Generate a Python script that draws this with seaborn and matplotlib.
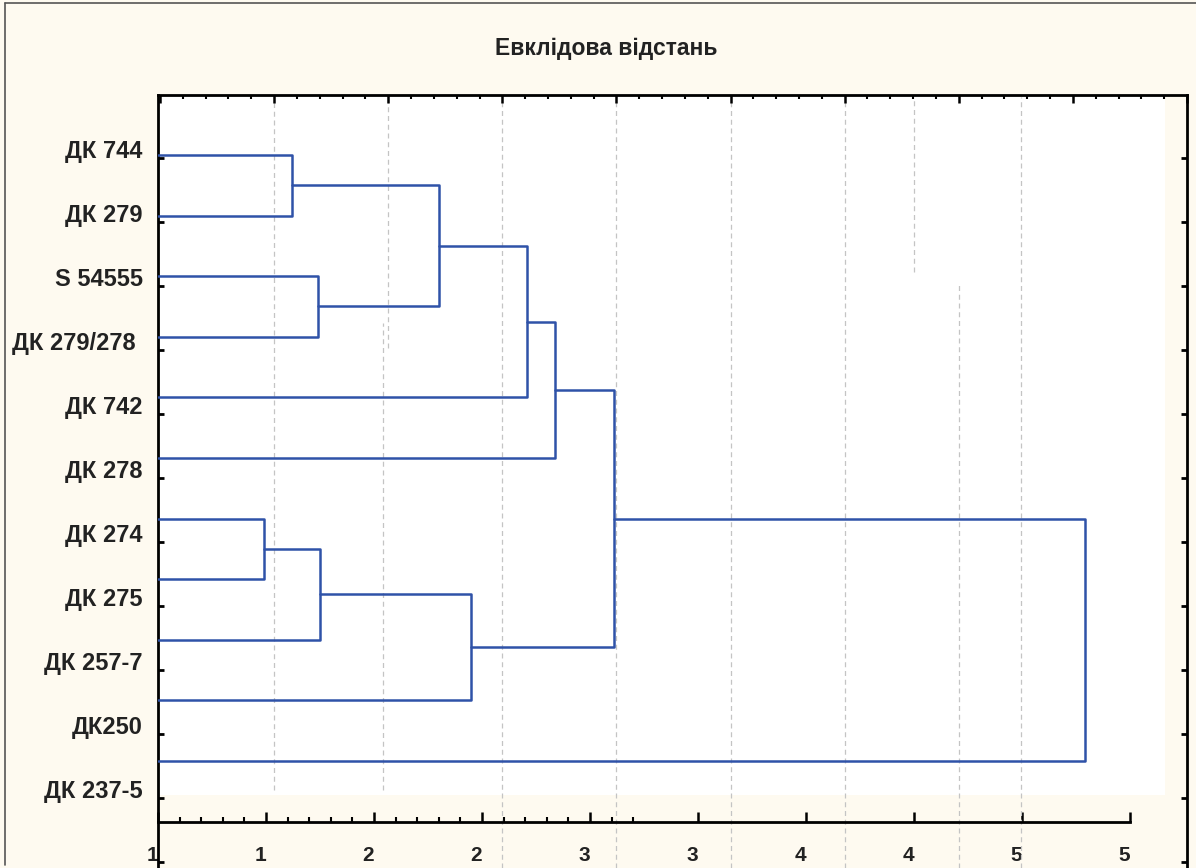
import numpy as np
import pandas as pd
import matplotlib
matplotlib.use('Agg')
import matplotlib.pyplot as plt
import matplotlib.transforms as mtransforms
from matplotlib.lines import Line2D
from matplotlib.patches import Rectangle
from matplotlib.ticker import FixedLocator, MultipleLocator
import seaborn as sns

# leaves, top to bottom
leaf_names = ["ДК 744", "ДК 279", "S 54555", "ДК 279/278 ", "ДК 742", "ДК 278",
              "ДК 274", "ДК 275", "ДК 257-7", "ДК250", "ДК 237-5"]
# joins: (left id, right id, linkage distance); new clusters get ids 11, 12, ...
merge_left = [0, 2, 11, 13, 14, 6, 16, 17, 15, 19]
merge_right = [1, 3, 12, 4, 5, 7, 8, 9, 18, 10]
merge_height = [1.12, 1.24, 1.80, 2.21, 2.34, 0.99, 1.25, 1.95, 2.61, 4.79]
leaf_height = 0.5
dist_ticks = [0.5, 1.0, 1.5, 2.0, 2.5, 3.0, 3.5, 4.0, 4.5, 5.0]
dist_labels = ["1", "1", "2", "2", "3", "3", "4", "4", "5", "5"]
title = "Евклідова відстань"

BEIGE = '#fefaf0'
BLUE = '#2f52a8'
INK = '#222222'

sns.set_theme(style='white')
plt.rcParams['font.family'] = ['Liberation Sans', 'DejaVu Sans']

# build U-shaped links
pos_y = {i: float(i) for i in range(len(leaf_names))}
pos_x = {i: leaf_height for i in range(len(leaf_names))}
rows = []
for k, (a, b, h) in enumerate(zip(merge_left, merge_right, merge_height)):
    pts = [(pos_x[a], pos_y[a]), (h, pos_y[a]), (h, pos_y[b]), (pos_x[b], pos_y[b])]
    for j, (x, y) in enumerate(pts):
        rows.append({'link': k, 'order': j, 'x': x, 'y': y})
    new_id = len(leaf_names) + k
    pos_y[new_id] = (pos_y[a] + pos_y[b]) / 2
    pos_x[new_id] = h
links = pd.DataFrame(rows)

fig = plt.figure(figsize=(11.96, 8.68), dpi=100, facecolor=BEIGE)
ax = fig.add_axes([158 / 1196, 0, 1029 / 1196, 773 / 868])
ax.set_facecolor(BEIGE)
ax.add_patch(Rectangle((0.002, 0.0944), 0.977, 0.9026, transform=ax.transAxes,
                       facecolor='white', edgecolor='none', zorder=0))

ax.set_xlim(0.5, 5.264)
ax.set_ylim(11.766, -0.990)

# top scale (unlabelled) and label scale as twins
ax_top = ax.twiny()
ax_top.set_xlim(-0.0175, 9.0)
ax_lab = ax.twinx()
ax_lab.set_ylim(11.094, -0.984)

# dashed grid
grid_tf = mtransforms.blended_transform_factory(ax_top.transData, ax.transAxes)
grid_specs = [(1, 0.101, 0.997), (2, 0.673, 0.997), (1.954, 0.101, 0.705),
              (3, 0, 0.997), (4, 0, 0.997), (5, 0, 0.997), (6, 0, 0.997),
              (6.608, 0.771, 0.997), (7, 0, 0.754), (7.546, 0, 0.997)]
for gx, y0, y1 in grid_specs:
    ax.plot([gx, gx], [y0, y1], transform=grid_tf, color='#c4c4c4', lw=0.9,
            ls=(0, (4, 3)), zorder=1, clip_on=False)

sns.lineplot(data=links, x='x', y='y', units='link', estimator=None, sort=False,
             color=BLUE, lw=1.8, ax=ax, zorder=3)
ax.set_xlabel('')
ax.set_ylabel('')

# spines
for s in ['left', 'right', 'top']:
    ax.spines[s].set_visible(s != 'top')
    ax.spines[s].set_color('black')
    ax.spines[s].set_linewidth(2)
ax.spines['bottom'].set_position(('axes', 0.0595))
ax.spines['bottom'].set_bounds(0.5, 5.0)
ax.spines['bottom'].set_color('black')
ax.spines['bottom'].set_linewidth(2)

ax.set_xticks(dist_ticks)
ax.set_xticklabels(dist_labels, ha='right')
ax.xaxis.set_minor_locator(FixedLocator(np.arange(0.5, 2.75, 0.1)))
ax.tick_params(axis='x', which='major', direction='in', length=7, width=1.8,
               pad=17, labelsize=15, labelcolor=INK, color='black')
ax.tick_params(axis='x', which='minor', direction='in', length=3.5, width=1.5, color='black')
for t in ax.get_xticklabels():
    t.set_fontweight('bold')
ax.tick_params(axis='y', left=False, right=False, labelleft=False)

for s in ax_top.spines.values():
    s.set_visible(False)
ax_top.spines['top'].set_visible(True)
ax_top.spines['top'].set_linewidth(2)
ax_top.spines['top'].set_color('black')
ax_top.xaxis.set_major_locator(MultipleLocator(1))
ax_top.xaxis.set_minor_locator(MultipleLocator(0.2))
ax_top.tick_params(axis='x', which='major', direction='in', length=6, width=1.8,
                   top=True, bottom=False, labeltop=False, labelbottom=False, color='black')
ax_top.tick_params(axis='x', which='minor', direction='in', length=3, width=1.5,
                   top=True, bottom=False, color='black')

for s in ax_lab.spines.values():
    s.set_visible(False)
ax_lab.set_yticks(range(len(leaf_names) + 1))
ax_lab.set_yticklabels(leaf_names + [''])
ax_lab.yaxis.set_ticks_position('both')
ax_lab.tick_params(axis='y', direction='in', length=4, width=2, left=True, right=True,
                   labelleft=True, labelright=False, pad=11, labelsize=17,
                   labelcolor=INK, color='black')
for t in ax_lab.get_yticklabels():
    t.set_fontweight('bold')
    t.set_verticalalignment('baseline')

fig.text(606 / 1196, 1 - 48 / 868, title, ha='center', va='center',
         fontsize=16.5, fontweight='bold', color=INK)

# outer frame bits
fig.add_artist(Line2D([5 / 1196, 5 / 1196], [0.003, 1 - 3 / 868], color='#555555',
                      lw=1.2, transform=fig.transFigure))
fig.add_artist(Line2D([5 / 1196, 1], [1 - 3 / 868, 1 - 3 / 868], color='#555555',
                      lw=1.2, transform=fig.transFigure))

fig.savefig('out.png', dpi=100, facecolor=BEIGE)
